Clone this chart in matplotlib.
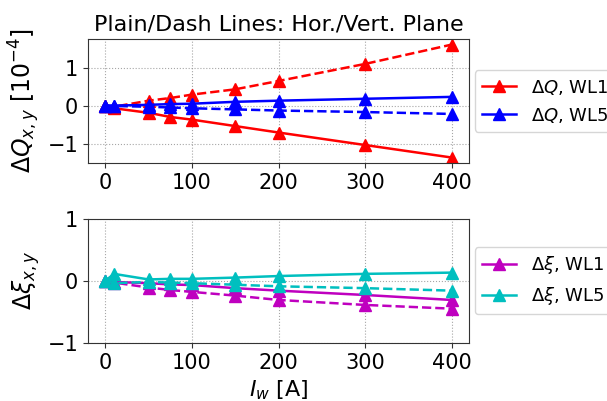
import matplotlib.pyplot as plt
import numpy as np

current = [0, 10, 50, 75, 100, 150, 200, 300, 400]

# tune shift [1e-4]
dq_wl1_hor = [0, -0.07, -0.19, -0.30, -0.37, -0.54, -0.71, -1.04, -1.37]
dq_wl1_ver = [0, -0.03, 0.13, 0.20, 0.29, 0.43, 0.65, 1.10, 1.61]
dq_wl5_hor = [0, 0.0, 0.02, 0.04, 0.05, 0.10, 0.13, 0.18, 0.23]
dq_wl5_ver = [0, -0.01, -0.03, -0.05, -0.07, -0.10, -0.13, -0.17, -0.22]

# chromaticity shift
dxi_wl1_hor = [0, -0.02, -0.04, -0.06, -0.07, -0.12, -0.16, -0.23, -0.31]
dxi_wl1_ver = [0, -0.03, -0.11, -0.15, -0.18, -0.24, -0.31, -0.39, -0.45]
dxi_wl5_hor = [0, 0.11, 0.02, 0.03, 0.03, 0.05, 0.075, 0.11, 0.13]
dxi_wl5_ver = [0, -0.04, -0.02, -0.03, -0.04, -0.065, -0.09, -0.12, -0.16]

fig = plt.figure(figsize=(6.07, 4.01), dpi=100)
ax1 = fig.add_axes([0.145, 0.593, 0.628, 0.31])
ax2 = fig.add_axes([0.145, 0.145, 0.628, 0.31])

kw = dict(marker='^', markersize=8, lw=1.8)

ax1.plot(current, dq_wl1_hor, color='r', ls='-', label=r'$\Delta Q$, WL1', **kw)
ax1.plot(current, dq_wl1_ver, color='r', ls='--', **kw)
ax1.plot(current, dq_wl5_hor, color='b', ls='-', label=r'$\Delta Q$, WL5', **kw)
ax1.plot(current, dq_wl5_ver, color='b', ls='--', **kw)

ax2.plot(current, dxi_wl1_hor, color='m', ls='-', label=r'$\Delta \xi$, WL1', **kw)
ax2.plot(current, dxi_wl1_ver, color='m', ls='--', **kw)
ax2.plot(current, dxi_wl5_hor, color='c', ls='-', label=r'$\Delta \xi$, WL5', **kw)
ax2.plot(current, dxi_wl5_ver, color='c', ls='--', **kw)

ax1.set_title('Plain/Dash Lines: Hor./Vert. Plane', fontsize=16)
ax1.set_ylabel(r'$\Delta Q_{x,y}$ [$10^{-4}$]', fontsize=17)
ax1.set_yticks([-1, 0, 1])
ax2.set_ylim(-1, 1)
ax2.set_yticks([-1, 0, 1])
ax2.set_ylabel(r'$\Delta \xi_{x,y}$', fontsize=17)
ax2.set_xlabel(r'$I_w$ [A]', fontsize=16)

for ax in (ax1, ax2):
    ax.set_xticks([0, 100, 200, 300, 400])
    ax.tick_params(labelsize=15, color='#333333')
    for s in ax.spines.values():
        s.set_color('#333333')
    ax.grid(True, ls=':', color='gray', alpha=0.7)
    ax.legend(loc='center left', bbox_to_anchor=(1, 0.5), fontsize=13,
              borderaxespad=0.3, handlelength=1.9)

fig.savefig('out.png', dpi=100)
